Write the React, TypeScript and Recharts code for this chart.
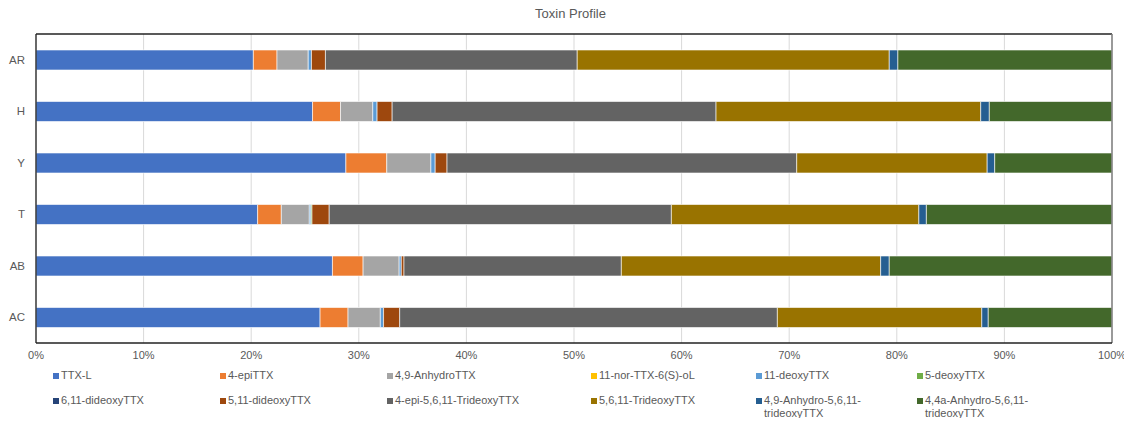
import React from "react";
import { BarChart, Bar, XAxis, YAxis, CartesianGrid, ReferenceLine } from "recharts";

const categories = ["AR", "H", "Y", "T", "AB", "AC"];

const seriesNames = [
  "TTX-L",
  "4-epiTTX",
  "4,9-AnhydroTTX",
  "11-nor-TTX-6(S)-oL",
  "11-deoxyTTX",
  "5-deoxyTTX",
  "6,11-dideoxyTTX",
  "5,11-dideoxyTTX",
  "4-epi-5,6,11-TrideoxyTTX",
  "5,6,11-TrideoxyTTX",
  "4,9-Anhydro-5,6,11-trideoxyTTX",
  "4,4a-Anhydro-5,6,11-trideoxyTTX",
];

const seriesColors = [
  "#4472C4", "#ED7D31", "#A5A5A5", "#FFC000", "#5B9BD5", "#70AD47",
  "#264478", "#9E480E", "#636363", "#997300", "#255E91", "#43682B",
];

// percent of total, per category (AR, H, Y, T, AB, AC)
const ttxL = [20.2, 25.7, 28.8, 20.6, 27.55, 26.4];
const epiTTX = [2.2, 2.6, 3.8, 2.2, 2.85, 2.6];
const anhydroTTX = [2.9, 3.0, 4.1, 2.6, 3.35, 3.0];
const norTTX = [0, 0, 0, 0, 0, 0];
const deoxy11 = [0.3, 0.4, 0.4, 0.15, 0.2, 0.3];
const deoxy5 = [0, 0, 0, 0.1, 0, 0];
const dideoxy611 = [0, 0, 0, 0, 0, 0];
const dideoxy511 = [1.3, 1.4, 1.1, 1.6, 0.25, 1.5];
const epiTrideoxy = [23.4, 30.1, 32.5, 31.8, 20.2, 35.1];
const trideoxy = [29.0, 24.6, 17.7, 23.0, 24.1, 19.0];
const anhydroTrideoxy49 = [0.8, 0.8, 0.7, 0.7, 0.8, 0.6];
const anhydroTrideoxy44a = [19.9, 11.4, 10.9, 17.25, 20.7, 11.5];

const seriesValues = [
  ttxL, epiTTX, anhydroTTX, norTTX, deoxy11, deoxy5,
  dideoxy611, dideoxy511, epiTrideoxy, trideoxy, anhydroTrideoxy49, anhydroTrideoxy44a,
];

const xTicks = [0, 0.1, 0.2, 0.3, 0.4, 0.5, 0.6, 0.7, 0.8, 0.9, 1];

const data = categories.map((name, i) => {
  const row: Record<string, any> = { name };
  seriesNames.forEach((s, j) => {
    row[s] = seriesValues[j][i];
  });
  return row;
});

// legend column left edges (square), two rows of six
const legendCols = [53, 220, 387, 591, 756, 917];
const legendRows = [376, 401];

const textColor = "#595959";
const font = "'Liberation Sans', Arial, sans-serif";

export default function App() {
  return (
    <div style={{ position: "relative", width: 1132, height: 426, margin: -8, fontFamily: font, background: "#fff" }}>
      <div
        style={{
          position: "absolute",
          top: 6,
          left: 0,
          width: 1141,
          textAlign: "center",
          fontSize: 13,
          color: textColor,
        }}
      >
        Toxin Profile
      </div>
      <BarChart
        width={1132}
        height={426}
        data={data}
        layout="vertical"
        stackOffset="expand"
        barSize={20}
        margin={{ top: 34, right: 20, bottom: 63, left: 0 }}
      >
        <CartesianGrid horizontal={false} stroke="#d9d9d9" />
        <CartesianGrid vertical={false} horizontalPoints={[34]} stroke="#222" strokeWidth={1.3} />
        <XAxis
          type="number"
          domain={[0, 1]}
          ticks={xTicks}
          tickFormatter={(v: number) => `${Math.round(v * 100)}%`}
          tickLine={false}
          tickSize={0}
          tickMargin={8}
          height={20}
          axisLine={{ stroke: "#222", strokeWidth: 1.3 }}
          tick={{ fill: textColor, fontSize: 11, fontFamily: font }}
          interval={0}
        />
        <YAxis
          type="category"
          dataKey="name"
          width={36}
          tickLine={false}
          tickSize={0}
          tickMargin={11}
          axisLine={{ stroke: "#222", strokeWidth: 1.3 }}
          tick={{ fill: textColor, fontSize: 11.5, fontFamily: font }}
        />
        {seriesNames.map((s, j) => (
          <Bar
            key={s}
            dataKey={s}
            stackId="a"
            fill={seriesColors[j]}
            stroke="#ffffff"
            strokeWidth={0.6}
            isAnimationActive={false}
          />
        ))}
        <ReferenceLine x={1} stroke="#7f7f7f" strokeWidth={1.5} />
      </BarChart>
      {seriesNames.map((s, j) => {
        const col = j % 6;
        const row = Math.floor(j / 6);
        return (
          <div
            key={s}
            style={{
              position: "absolute",
              left: legendCols[col],
              top: legendRows[row] - 7,
              display: "flex",
              alignItems: "flex-start",
              fontSize: 11,
              lineHeight: "13px",
              color: textColor,
            }}
          >
            <span
              style={{
                display: "inline-block",
                width: 6,
                height: 6,
                marginTop: 4,
                marginRight: 2,
                background: seriesColors[j],
                flex: "none",
              }}
            />
            <span style={{ maxWidth: 140 }}>{s}</span>
          </div>
        );
      })}
    </div>
  );
}
